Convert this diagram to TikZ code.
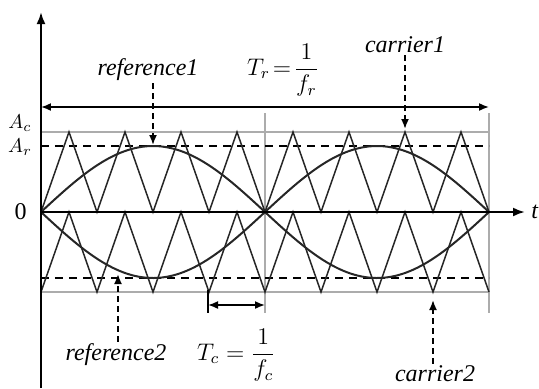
\documentclass[tikz,border=0pt]{standalone}
\usepackage{amsmath}
\usepackage{fontspec}
\setmainfont{Liberation Serif}
\usetikzlibrary{arrows.meta, positioning}

\begin{document}
\begin{tikzpicture}[
    x=0.5pt, y=0.5pt,
    axis/.style={-{Latex[length=6pt, width=4.5pt]}, line width=1.1pt},
    guide/.style={gray!65, line width=0.6pt},
    level/.style={line width=0.7pt, dash pattern=on 4pt off 3pt},
    carrier/.style={black!85, line width=0.75pt},
    wave/.style={black!85, line width=1pt},
    pointer/.style={-{Latex[length=5pt, width=4pt]}, densely dashed, line width=0.9pt},
    span/.style={{Latex[length=5pt, width=4pt]}-{Latex[length=5pt, width=4pt]}, line width=0.8pt},
    lbl/.style={font=\large\itshape, inner sep=1pt},
    mlbl/.style={font=\large, inner sep=1pt}
]
\useasboundingbox (-41,-176) rectangle (498,212);

\draw[guide] (0,80) -- (448,80);
\draw[guide] (0,-80) -- (448,-80);
\draw[guide] (224,99) -- (224,-101);
\draw[guide] (448,99) -- (448,-101);
\draw[level] (0,66) -- (448,66);
\draw[level] (0,-66) -- (448,-66);

\draw[carrier] (0,0) \foreach \k in {0,...,7} { -- ({56*\k+28},80) -- ({56*\k+56},0) };
\draw[carrier] (0,-80) \foreach \k in {0,...,7} { -- ({56*\k+28},0) -- ({56*\k+56},-80) };

\draw[wave, domain=0:448, samples=120, smooth] plot (\x, {66*sin(\x/448*360)});
\draw[wave, domain=0:448, samples=120, smooth] plot (\x, {-66*sin(\x/448*360)});

\coordinate (O) at (0,0);
\coordinate (ytop) at (0,200);
\coordinate (ybot) at (0,-176);
\coordinate (tend) at (484,0);
\draw[axis] (ybot) -- (ytop);
\draw[axis] (O) -- (tend);
\node[lbl, right=2pt of tend] (t) {t};
\node[mlbl, left=6pt of O] (zero) {0};
\node[inner sep=0pt] (Aclbl) at (-21,89) {$A_c$};
\node[inner sep=0pt] (Arlbl) at (-21,65) {$A_r$};

\coordinate (Tr0) at (0,105);
\coordinate (Tr1) at (448,105);
\draw[span] (Tr0) -- (Tr1);

\node[lbl] (ref1) at (107,142) {reference1};
\node[mlbl, right=22pt of ref1] (Trlbl) {$T_r\!=\!\dfrac{1}{f_r}$};
\coordinate (pk1) at (112,67);
\draw[pointer] (ref1.south -| pk1) -- (pk1);

\node[lbl] (car1) at (364,167) {carrier1};
\coordinate (pk2) at (364,83);
\draw[pointer] (car1.south -| pk2) -- (pk2);

\node[lbl] (ref2) at (75,-143) {reference2};
\node[mlbl, right=13pt of ref2] (Tclbl) {$T_c=\dfrac{1}{f_c}$};
\coordinate (pk3) at (77,-62);
\draw[pointer] (ref2.north -| pk3) -- (pk3);

\node[lbl] (car2) at (394,-162) {carrier2};
\coordinate (pk4) at (392,-88);
\draw[pointer] (car2.north -| pk4) -- (pk4);

\coordinate (Tc0) at (167,-93);
\coordinate (Tc1) at (224,-93);
\draw[line width=0.7pt] (167,-78) -- (167,-101);
\draw[span] (Tc0) -- (Tc1);

\end{tikzpicture}
\end{document}
